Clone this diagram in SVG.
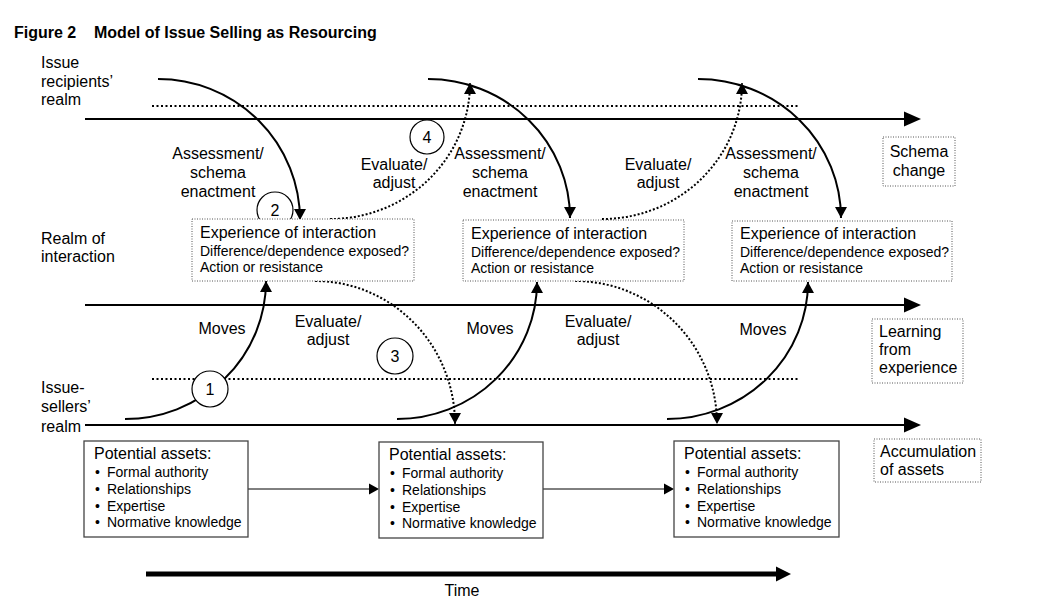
<svg xmlns="http://www.w3.org/2000/svg" width="1044" height="616" viewBox="0 0 1044 616">
<style>
text{font-family:"Liberation Sans",Arial,Helvetica,sans-serif;font-size:16px;fill:#000}
.t{font-weight:bold}
.s{font-size:14px}
.c{text-anchor:middle}
.main{stroke:#000;stroke-width:2;fill:none}
.hd{fill:#000;stroke:none}
.dl{stroke:#000;stroke-width:2;stroke-dasharray:2 2.5;fill:none}
.cv{stroke:#000;stroke-width:2;fill:none;marker-end:url(#ah)}
.dc{stroke:#000;stroke-width:2;stroke-dasharray:2 2;fill:none;marker-end:url(#ah)}
.eb{fill:#fff;stroke:#555;stroke-width:1;stroke-dasharray:1 1.5}
.ab{fill:#fff;stroke:#444;stroke-width:1.3}
.ci{fill:#fff;stroke:#000;stroke-width:1.2}
.thin{stroke:#000;stroke-width:1;fill:none}
.time{stroke:#000;stroke-width:5;fill:none}
</style>
<defs>
<marker id="ah" markerUnits="userSpaceOnUse" markerWidth="12" markerHeight="12" refX="11" refY="6" orient="auto">
<path d="M0,0 L11,6 L0,12 z" fill="#000"/>
</marker>
</defs>
<rect width="1044" height="616" fill="#fff"/>

<g id="title">
<text class="t" x="14" y="38">Figure 2</text>
<text class="t" x="94" y="38">Model of Issue Selling as Resourcing</text>
</g>

<g id="realm-labels">
<text x="41" y="68">Issue</text>
<text x="41" y="87">recipients’</text>
<text x="41" y="105">realm</text>
<text x="41" y="244">Realm of</text>
<text x="41" y="262">interaction</text>
<text x="41" y="393">Issue-</text>
<text x="41" y="412">sellers’</text>
<text x="41" y="432">realm</text>
</g>

<g id="connectors">
<line class="dl" x1="152" y1="106" x2="800" y2="106"/>
<line class="dl" x1="152" y1="379" x2="800" y2="379"/>
<path class="cv" d="M158,79 A142,141 0 0 1 300,220"/>
<path class="cv" d="M428,79 A142,139 0 0 1 570,218"/>
<path class="cv" d="M698,79 A143,139 0 0 1 841,218"/>
<path class="cv" d="M125,419 A141,138 0 0 0 266,281"/>
<path class="cv" d="M397,419 A140,137 0 0 0 537,282"/>
<path class="cv" d="M667,419 A141,137 0 0 0 808,282"/>
<path class="dc" d="M330,219 A140,136 0 0 0 470,83"/>
<path class="dc" d="M602,219 A140,136 0 0 0 742,83"/>
<path class="dc" d="M315,281 A140,143 0 0 1 455,424"/>
<path class="dc" d="M575,281 A142,143 0 0 1 717,424"/>
<line class="main" x1="85" y1="119" x2="906" y2="119"/>
<path class="hd" d="M904,111.5 L921,119 L904,126.5 z"/>
<line class="main" x1="85" y1="305" x2="906" y2="305"/>
<path class="hd" d="M904,297.5 L921,305 L904,312.5 z"/>
<line class="main" x1="85" y1="425" x2="906" y2="425"/>
<path class="hd" d="M904,417.5 L921,425 L904,432.5 z"/>
<line class="thin" x1="248" y1="489" x2="371" y2="489"/>
<path class="hd" d="M369,483.5 L379,489 L369,494.5 z"/>
<line class="thin" x1="543" y1="489" x2="666" y2="489"/>
<path class="hd" d="M664,483.5 L674,489 L664,494.5 z"/>
<line class="time" x1="146" y1="574" x2="778" y2="574"/>
<path class="hd" d="M776,566.5 L791,574 L776,581.5 z"/>
</g>

<g id="circle-1"><circle class="ci" cx="210" cy="389" r="18"/><text class="c" x="210" y="395">1</text></g>
<g id="circle-2"><circle class="ci" cx="275" cy="210" r="18"/><text class="c" x="275" y="216">2</text></g>
<g id="circle-3"><circle class="ci" cx="395" cy="356" r="18"/><text class="c" x="395" y="362">3</text></g>
<g id="circle-4"><circle class="ci" cx="427" cy="137" r="17"/><text class="c" x="427" y="143">4</text></g>

<g id="labels">
<text class="c" x="218" y="159">Assessment/</text>
<text class="c" x="218" y="178">schema</text>
<text class="c" x="218" y="197">enactment</text>
<text class="c" x="500" y="159">Assessment/</text>
<text class="c" x="500" y="178">schema</text>
<text class="c" x="500" y="197">enactment</text>
<text class="c" x="771" y="159">Assessment/</text>
<text class="c" x="771" y="178">schema</text>
<text class="c" x="771" y="197">enactment</text>
<text class="c" x="394" y="170">Evaluate/</text>
<text class="c" x="394" y="188">adjust</text>
<text class="c" x="658" y="170">Evaluate/</text>
<text class="c" x="658" y="188">adjust</text>
<text class="c" x="328" y="327">Evaluate/</text>
<text class="c" x="328" y="345">adjust</text>
<text class="c" x="598" y="327">Evaluate/</text>
<text class="c" x="598" y="345">adjust</text>
<text class="c" x="222" y="334">Moves</text>
<text class="c" x="490" y="334">Moves</text>
<text class="c" x="763" y="335">Moves</text>
<text class="c" x="462" y="596">Time</text>
</g>

<g id="experience-1">
<rect class="eb" x="192" y="219" width="222" height="62"/>
<text x="200" y="238">Experience of interaction</text>
<text class="s" x="200" y="256">Difference/dependence exposed?</text>
<text class="s" x="200" y="272">Action or resistance</text>
</g>
<g id="experience-2">
<rect class="eb" x="463" y="220" width="221" height="61"/>
<text x="471" y="239">Experience of interaction</text>
<text class="s" x="471" y="257">Difference/dependence exposed?</text>
<text class="s" x="471" y="273">Action or resistance</text>
</g>
<g id="experience-3">
<rect class="eb" x="732" y="221" width="220" height="60"/>
<text x="740" y="239">Experience of interaction</text>
<text class="s" x="740" y="257">Difference/dependence exposed?</text>
<text class="s" x="740" y="273">Action or resistance</text>
</g>

<g id="schema-change">
<rect class="eb" x="883" y="137" width="72" height="49"/>
<text class="c" x="919" y="157">Schema</text>
<text class="c" x="919" y="176">change</text>
</g>
<g id="learning">
<rect class="eb" x="872" y="319" width="91" height="64"/>
<text x="879" y="337">Learning</text>
<text x="879" y="355">from</text>
<text x="879" y="373">experience</text>
</g>
<g id="accumulation">
<rect class="eb" x="874" y="439" width="107" height="43"/>
<text x="880" y="457">Accumulation</text>
<text x="880" y="475">of assets</text>
</g>

<g id="assets-1">
<rect class="ab" x="84" y="441" width="164" height="96"/>
<text x="94" y="459">Potential assets:</text>
<text class="s" x="95" y="477">•</text><text class="s" x="107" y="477">Formal authority</text>
<text class="s" x="95" y="494">•</text><text class="s" x="107" y="494">Relationships</text>
<text class="s" x="95" y="511">•</text><text class="s" x="107" y="511">Expertise</text>
<text class="s" x="95" y="527">•</text><text class="s" x="107" y="527">Normative knowledge</text>
</g>
<g id="assets-2">
<rect class="ab" x="379" y="442" width="164" height="96"/>
<text x="389" y="460">Potential assets:</text>
<text class="s" x="390" y="478">•</text><text class="s" x="402" y="478">Formal authority</text>
<text class="s" x="390" y="495">•</text><text class="s" x="402" y="495">Relationships</text>
<text class="s" x="390" y="512">•</text><text class="s" x="402" y="512">Expertise</text>
<text class="s" x="390" y="528">•</text><text class="s" x="402" y="528">Normative knowledge</text>
</g>
<g id="assets-3">
<rect class="ab" x="674" y="441" width="165" height="96"/>
<text x="684" y="459">Potential assets:</text>
<text class="s" x="685" y="477">•</text><text class="s" x="697" y="477">Formal authority</text>
<text class="s" x="685" y="494">•</text><text class="s" x="697" y="494">Relationships</text>
<text class="s" x="685" y="511">•</text><text class="s" x="697" y="511">Expertise</text>
<text class="s" x="685" y="527">•</text><text class="s" x="697" y="527">Normative knowledge</text>
</g>
</svg>
